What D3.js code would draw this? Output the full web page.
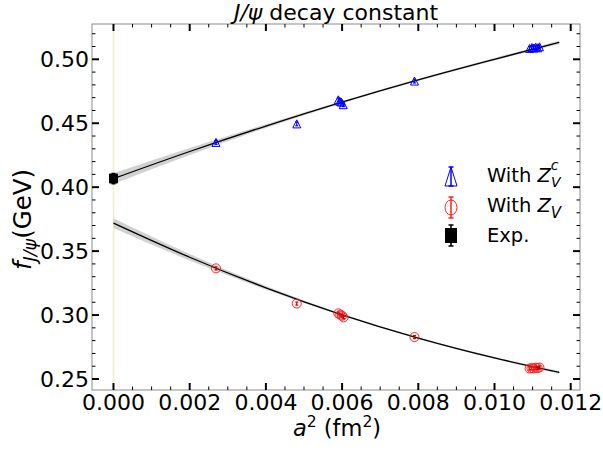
<!DOCTYPE html>
<html>
<head>
<meta charset="utf-8">
<script src="https://cdn.jsdelivr.net/npm/d3@7"></script>
<style>
  html, body { margin: 0; padding: 0; background: #fff; }
</style>
</head>
<body>
<svg id="chart" width="603" height="450" font-family="DejaVu Sans"></svg>
<script>
// Lattice data: a^2 in fm^2
const aSqZc   = [0.00269, 0.00481, 0.00590, 0.00594, 0.00598, 0.00603, 0.00790,
                 0.01092, 0.01098, 0.01103, 0.01108, 0.01113, 0.01118];
const fWithZc = [0.4350, 0.4495, 0.4683, 0.4672, 0.4665, 0.4645, 0.4830,
                 0.5085, 0.5092, 0.5088, 0.5095, 0.5090, 0.5098];
const errWithZc = [0.0015, 0.0015, 0.0015, 0.0015, 0.0015, 0.0015, 0.0015,
                   0.0015, 0.0015, 0.0015, 0.0015, 0.0015, 0.0015];

const aSqZ    = [0.00269, 0.00481, 0.00590, 0.00595, 0.00600, 0.00604, 0.00790,
                 0.01092, 0.01097, 0.01102, 0.01108, 0.01113, 0.01118];
const fWithZ  = [0.3365, 0.3090, 0.3013, 0.3003, 0.2995, 0.2982, 0.2828,
                 0.2582, 0.2585, 0.2583, 0.2588, 0.2586, 0.2590];
const errWithZ = [0.0012, 0.0012, 0.0012, 0.0012, 0.0012, 0.0012, 0.0012,
                  0.0012, 0.0012, 0.0012, 0.0012, 0.0012, 0.0012];

// Experimental value
const expX = [0];
const expF = [0.4067];
const expErr = [0.0040];

// Continuum fits with error bands
const fitX      = [0, 0.002, 0.004, 0.006, 0.008, 0.010, 0.0117];
const fitZc     = [0.4067, 0.4279, 0.4478, 0.4665, 0.4839, 0.5000, 0.5132];
const fitZcErr  = [0.0042, 0.0028, 0.0015, 0.0008, 0.0008, 0.0010, 0.0013];
const fitZ      = [0.3719, 0.3452, 0.3213, 0.3002, 0.2820, 0.2665, 0.2552];
const fitZErr   = [0.0038, 0.0025, 0.0014, 0.0008, 0.0007, 0.0008, 0.0010];

// Axis ticks
const xTicks = [0.000, 0.002, 0.004, 0.006, 0.008, 0.010, 0.012];
const xTickLabels = ["0.000", "0.002", "0.004", "0.006", "0.008", "0.010", "0.012"];
const yTicks = [0.25, 0.30, 0.35, 0.40, 0.45, 0.50];
const yTickLabels = ["0.25", "0.30", "0.35", "0.40", "0.45", "0.50"];

const svg = d3.select("#chart");
const L = 92, R = 580, T = 24, B = 390;
const FS = 22;

const x = d3.scaleLinear().domain([-0.000564, 0.012244]).range([L, R]);
const y = d3.scaleLinear().domain([0.2414, 0.5276]).range([B, T]);

// x = 0 guide line
svg.append("line")
  .attr("x1", x(0)).attr("x2", x(0)).attr("y1", T).attr("y2", B)
  .attr("stroke", "#efefcf").attr("stroke-width", 1.5);

// Fit bands and central curves
function drawFit(vals, errs) {
  const pts = fitX.map((xv, i) => ({x: xv, y: vals[i], e: errs[i]}));
  const area = d3.area().x(d => x(d.x)).y0(d => y(d.y - d.e)).y1(d => y(d.y + d.e))
    .curve(d3.curveMonotoneX);
  svg.append("path").attr("d", area(pts)).attr("fill", "#c9c9c9").attr("fill-opacity", 0.85);
  const line = d3.line().x(d => x(d.x)).y(d => y(d.y)).curve(d3.curveMonotoneX);
  svg.append("path").attr("d", line(pts)).attr("fill", "none")
    .attr("stroke", "#000").attr("stroke-width", 1.3);
}
drawFit(fitZc, fitZcErr);
drawFit(fitZ, fitZErr);

// Error bars
function errBar(g, cx, lo, hi, color, cap, w) {
  g.append("line").attr("x1", cx).attr("x2", cx).attr("y1", lo).attr("y2", hi)
    .attr("stroke", color).attr("stroke-width", w);
  [lo, hi].forEach(v => g.append("line").attr("x1", cx - cap).attr("x2", cx + cap)
    .attr("y1", v).attr("y2", v).attr("stroke", color).attr("stroke-width", w));
}

// Z_V data: open red circles
const gZ = svg.append("g");
aSqZ.forEach((xv, i) => {
  const cx = x(xv), cy = y(fWithZ[i]);
  errBar(gZ, cx, y(fWithZ[i] - errWithZ[i]), y(fWithZ[i] + errWithZ[i]), "#d00000", 1.5, 1.2);
  gZ.append("circle").attr("cx", cx).attr("cy", cy).attr("r", 4.5)
    .attr("fill", "none").attr("stroke", "#ff2020").attr("stroke-width", 1);
});

// Z_V^c data: open blue triangles
const gZc = svg.append("g");
aSqZc.forEach((xv, i) => {
  const cx = x(xv), cy = y(fWithZc[i]);
  errBar(gZc, cx, y(fWithZc[i] - errWithZc[i]), y(fWithZc[i] + errWithZc[i]), "#0000ff", 1.5, 1.2);
  gZc.append("path")
    .attr("d", `M${cx},${cy - 4}L${cx - 4},${cy + 4}L${cx + 4},${cy + 4}Z`)
    .attr("fill", "none").attr("stroke", "#0000ff").attr("stroke-width", 1);
});

// Experimental point
expX.forEach((xv, i) => {
  const cx = x(xv), cy = y(expF[i]);
  errBar(svg, cx, y(expF[i] - expErr[i]), y(expF[i] + expErr[i]), "#000", 2, 1.5);
  svg.append("rect").attr("x", cx - 4.5).attr("y", cy - 5).attr("width", 9).attr("height", 10)
    .attr("rx", 1).attr("fill", "#000");
});

// Frame
svg.append("rect").attr("x", L).attr("y", T).attr("width", R - L).attr("height", B - T)
  .attr("fill", "none").attr("stroke", "#8c8c8c").attr("stroke-width", 1);

// Ticks (inward on all four sides)
const xMinor = d3.range(0, 0.01225, 0.0005).filter(v => !xTicks.some(t => Math.abs(t - v) < 1e-9));
const yMinor = d3.range(0.25, 0.5276, 0.01).filter(v => !yTicks.some(t => Math.abs(t - v) < 1e-9));
const ticks = svg.append("g").attr("stroke", "#000");
xTicks.forEach(v => {
  ticks.append("line").attr("x1", x(v)).attr("x2", x(v)).attr("y1", B).attr("y2", B - 7).attr("stroke-width", 2);
  ticks.append("line").attr("x1", x(v)).attr("x2", x(v)).attr("y1", T).attr("y2", T + 7).attr("stroke-width", 2);
});
xMinor.forEach(v => {
  ticks.append("line").attr("x1", x(v)).attr("x2", x(v)).attr("y1", B).attr("y2", B - 3.5).attr("stroke-width", 1);
  ticks.append("line").attr("x1", x(v)).attr("x2", x(v)).attr("y1", T).attr("y2", T + 3.5).attr("stroke-width", 1);
});
yTicks.forEach(v => {
  ticks.append("line").attr("y1", y(v)).attr("y2", y(v)).attr("x1", L).attr("x2", L + 7).attr("stroke-width", 2);
  ticks.append("line").attr("y1", y(v)).attr("y2", y(v)).attr("x1", R).attr("x2", R - 7).attr("stroke-width", 2);
});
yMinor.forEach(v => {
  ticks.append("line").attr("y1", y(v)).attr("y2", y(v)).attr("x1", L).attr("x2", L + 3.5).attr("stroke-width", 1);
  ticks.append("line").attr("y1", y(v)).attr("y2", y(v)).attr("x1", R).attr("x2", R - 3.5).attr("stroke-width", 1);
});

// Tick labels
svg.append("g").selectAll("text").data(xTicks).join("text")
  .attr("x", d => x(d)).attr("y", 409.5).attr("text-anchor", "middle")
  .attr("font-size", FS).text((d, i) => xTickLabels[i]);
svg.append("g").selectAll("text").data(yTicks).join("text")
  .attr("x", 89).attr("y", d => y(d) + 8).attr("text-anchor", "end")
  .attr("font-size", FS).text((d, i) => yTickLabels[i]);

// Title
const title = svg.append("text").attr("x", 336).attr("y", 20.3).attr("text-anchor", "middle").attr("font-size", 22);
title.append("tspan").attr("font-style", "italic").text("J/ψ");
title.append("tspan").text(" decay constant");

// Axis labels
const xl = svg.append("text").attr("x", 337).attr("y", 436).attr("text-anchor", "middle").attr("font-size", 22.5);
xl.append("tspan").attr("font-style", "italic").text("a");
xl.append("tspan").attr("font-size", 15.5).attr("dy", -9).text("2");
xl.append("tspan").attr("dy", 9).text(" (fm");
xl.append("tspan").attr("font-size", 15.5).attr("dy", -9).text("2");
xl.append("tspan").attr("dy", 9).text(")");

const yl = svg.append("text").attr("transform", "translate(31,219.5) rotate(-90)")
  .attr("text-anchor", "middle").attr("font-size", 24.5);
yl.append("tspan").attr("font-style", "italic").text("f");
yl.append("tspan").attr("font-style", "italic").attr("font-size", 17.5).attr("dy", 5).text("J/ψ");
yl.append("tspan").attr("dy", -5).text("(GeV)");

// Legend
const lg = svg.append("g");
const lx = 451;
const LFS = 19.5;
// Z_V^c entry
errBar(lg, lx, 167, 186, "#0000ff", 2.5, 1.5);
lg.append("path").attr("d", `M${lx},167L${lx - 6},186L${lx + 6},186Z`)
  .attr("fill", "none").attr("stroke", "#0000ff").attr("stroke-width", 1);
// Z_V entry
errBar(lg, lx, 197, 218, "#ff2020", 2.5, 1.5);
lg.append("ellipse").attr("cx", lx).attr("cy", 207.5).attr("rx", 6).attr("ry", 7.5)
  .attr("fill", "none").attr("stroke", "#ff2020").attr("stroke-width", 1);
// Exp entry
errBar(lg, lx, 225, 246, "#000", 2.5, 1.5);
lg.append("rect").attr("x", lx - 6).attr("y", 228).attr("width", 12).attr("height", 15).attr("fill", "#000");

const t1 = lg.append("text").attr("x", 487).attr("y", 182).attr("font-size", LFS);
t1.append("tspan").text("With ");
t1.append("tspan").attr("font-style", "italic").text("Z");
t1.append("tspan").attr("font-style", "italic").attr("font-size", 14).attr("dy", -12).text("c");
t1.append("tspan").attr("font-style", "italic").attr("font-size", 14).attr("dx", -7.5).attr("dy", 16.5).text("V");

const t2 = lg.append("text").attr("x", 487).attr("y", 212).attr("font-size", LFS);
t2.append("tspan").text("With ");
t2.append("tspan").attr("font-style", "italic").text("Z");
t2.append("tspan").attr("font-style", "italic").attr("font-size", 15).attr("dy", 6).text("V");

lg.append("text").attr("x", 487).attr("y", 242).attr("font-size", LFS).text("Exp.");
</script>
</body>
</html>
